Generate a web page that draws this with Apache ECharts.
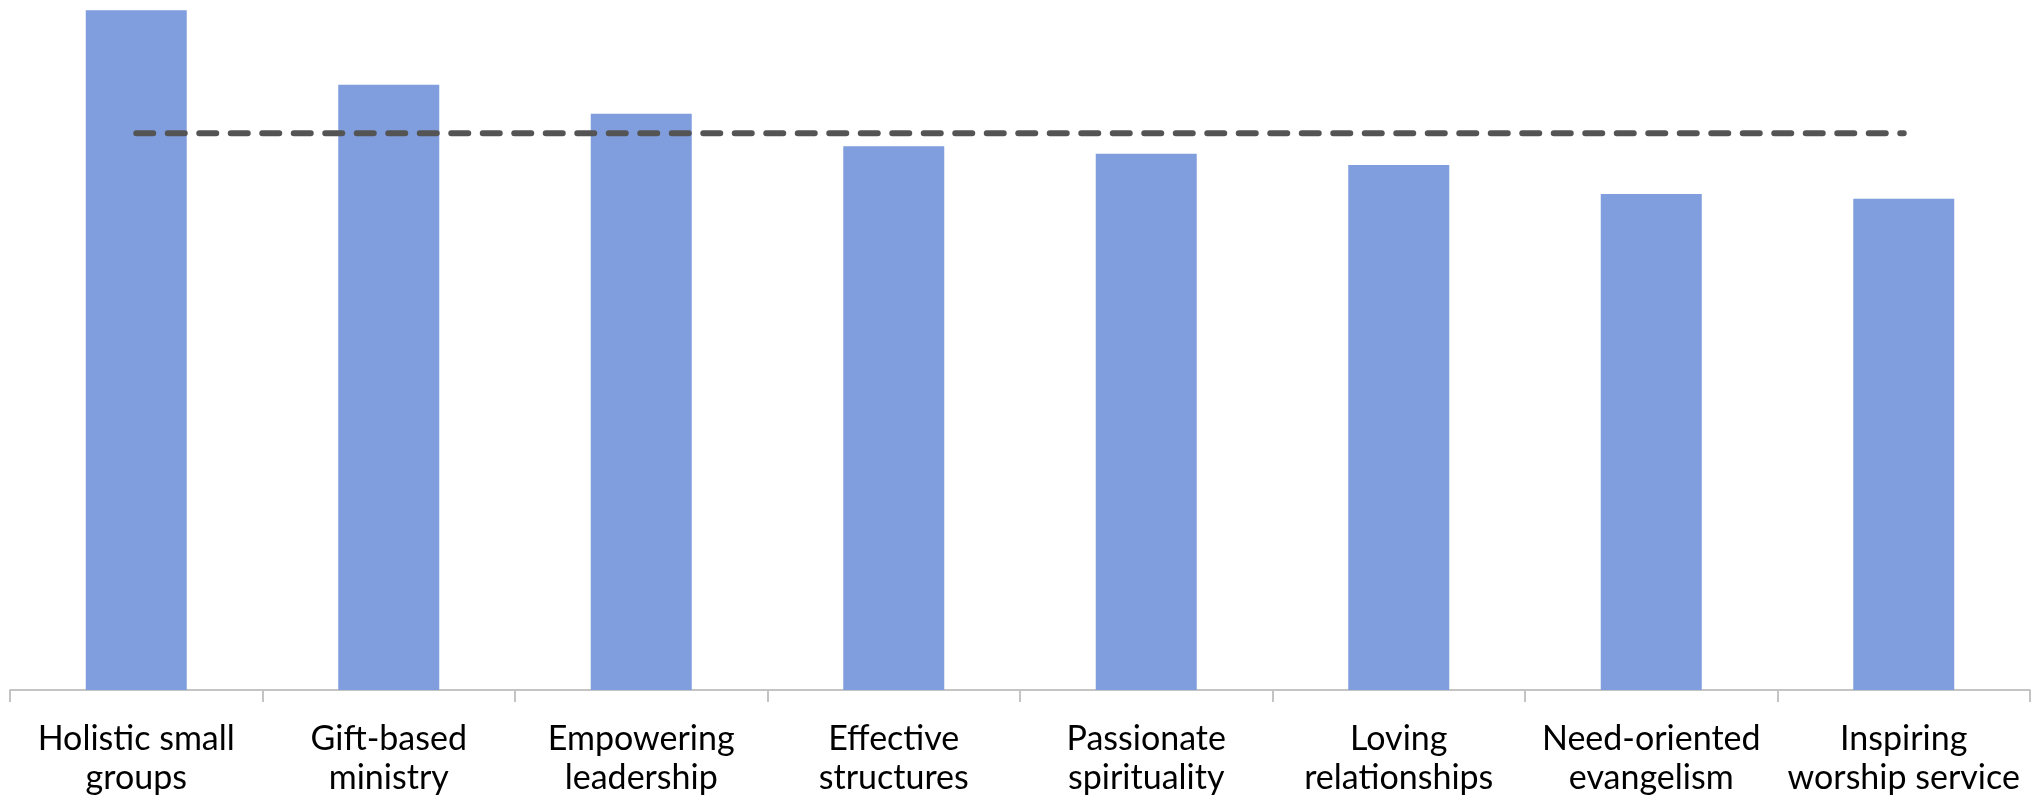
<!DOCTYPE html>
<html>
<head>
<meta charset="utf-8">
<script src="https://cdn.jsdelivr.net/npm/echarts@6/dist/echarts.min.js"></script>
<style>
  html, body { margin: 0; padding: 0; background: #fff; }
  #chart { width: 2040px; height: 798px; }
</style>
</head>
<body>
<div id="chart"></div>
<script>
// categories along the x axis
const categories = [
    'Holistic small\ngroups',
    'Gift-based\nministry',
    'Empowering\nleadership',
    'Effective\nstructures',
    'Passionate\nspirituality',
    'Loving\nrelationships',
    'Need-oriented\nevangelism',
    'Inspiring\nworship service'
];
// bar heights (arbitrary 0-100 scale)
const scores = [98.5, 87.7, 83.5, 78.8, 77.7, 76.1, 71.9, 71.2];
// dashed reference line (average level)
const averageLine = [80.7, 80.7, 80.7, 80.7, 80.7, 80.7, 80.7, 80.7];

const chart = echarts.init(document.getElementById('chart'), null, { renderer: 'canvas' });

const option = {
    backgroundColor: '#ffffff',
    animation: false,
    grid: { left: 10, right: 10, top: 0, bottom: 108, containLabel: false },
    xAxis: {
        type: 'category',
        data: categories,
        boundaryGap: true,
        axisLine: { show: true, lineStyle: { color: '#c4c4c4', width: 2 } },
        axisTick: { show: true, interval: 0, length: 12, lineStyle: { color: '#c4c4c4', width: 2 } },
        axisLabel: {
            interval: 0,
            margin: 30,
            color: '#000000',
            fontFamily: 'Lato',
            fontSize: 34,
            lineHeight: 39,
            align: 'center'
        }
    },
    yAxis: {
        type: 'value',
        min: 0,
        max: 100,
        show: false,
        splitLine: { show: false }
    },
    series: [
        {
            type: 'bar',
            data: scores,
            barWidth: '40%',
            itemStyle: { color: '#809ede' }
        },
        {
            type: 'line',
            data: averageLine,
            symbol: 'none',
            z: 5,
            lineStyle: { color: '#545454', width: 6, type: [17, 14.5], cap: 'round' }
        }
    ]
};
chart.setOption(option);
</script>
</body>
</html>
